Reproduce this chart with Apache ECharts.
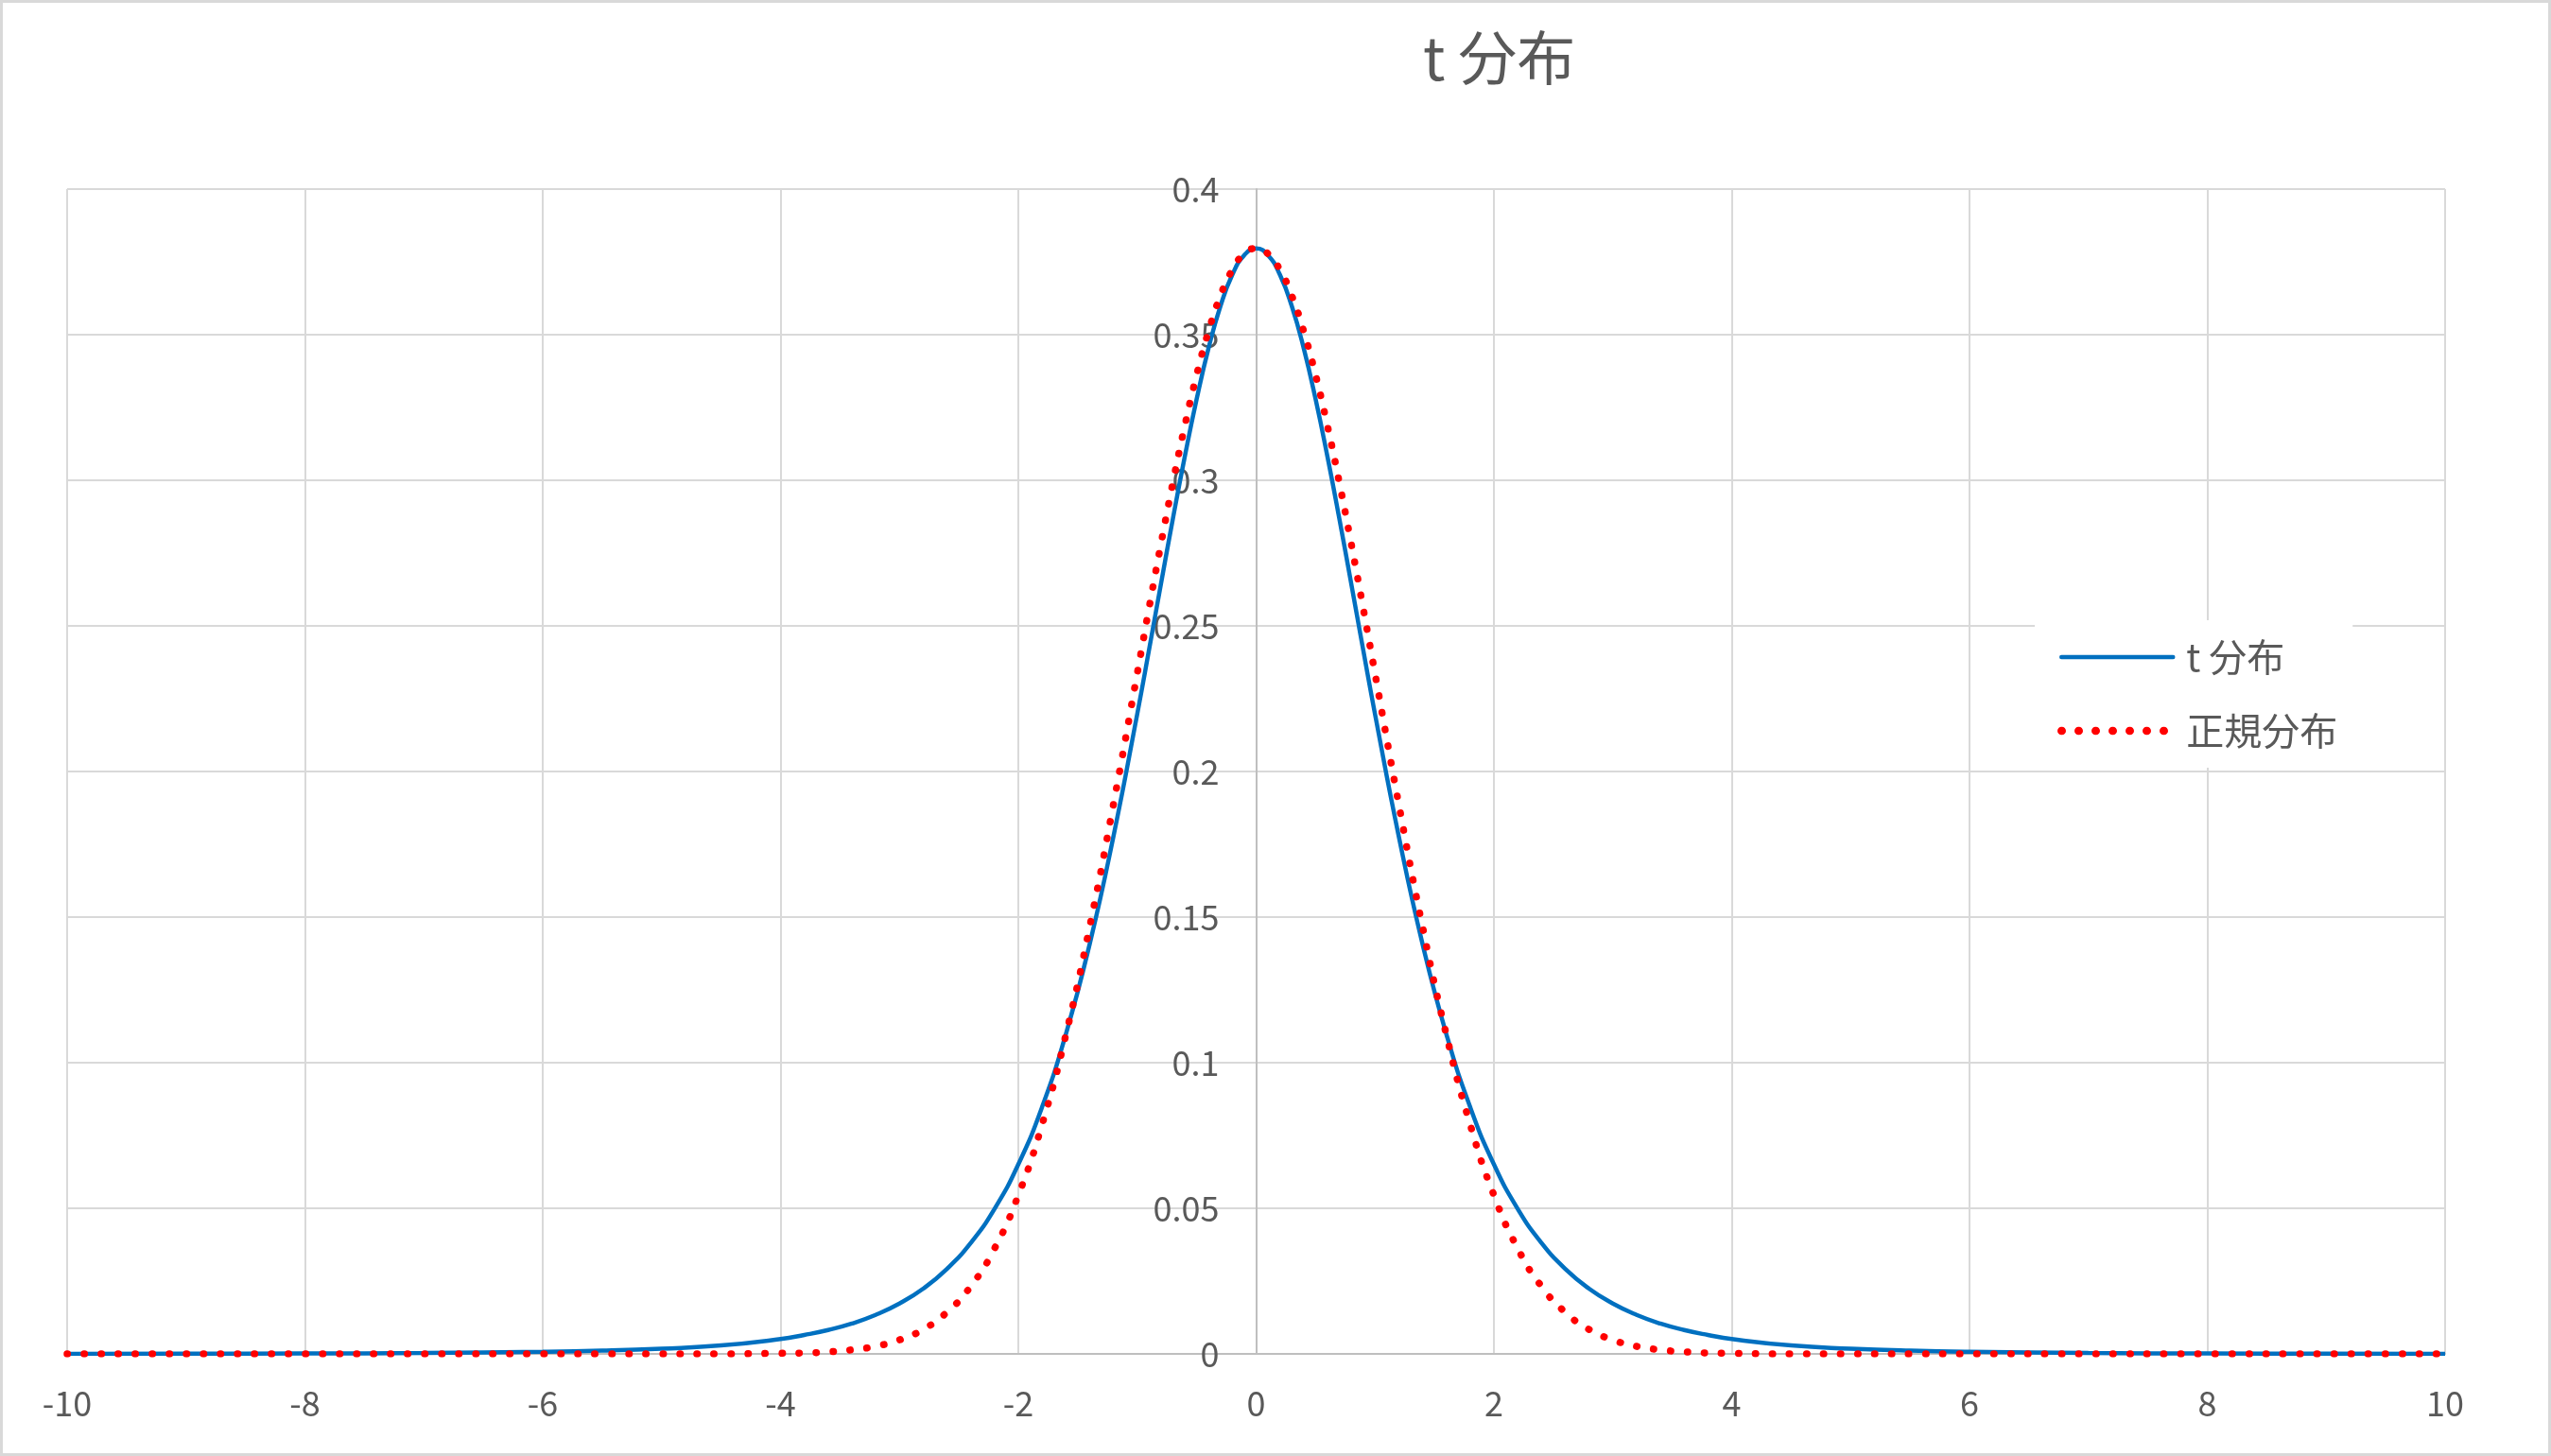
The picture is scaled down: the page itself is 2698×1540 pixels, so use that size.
<!DOCTYPE html>
<html>
<head>
<meta charset="utf-8">
<script src="https://cdn.jsdelivr.net/npm/echarts@6/dist/echarts.min.js"></script>
<style>
  html, body { margin: 0; padding: 0; background: #fff; }
  #wrap { position: relative; width: 2698px; height: 1540px; }
  #c { position: absolute; left: 0; top: 0; width: 2698px; height: 1540px; }
  #frame { position: absolute; left: 0; top: 0; width: 2698px; height: 1540px; box-sizing: border-box; border: 3px solid #d9d9d9; pointer-events: none; }
</style>
</head>
<body>
<div id="wrap"><div id="c"></div><div id="frame"></div></div>
<script>
// ---- data ----
const chartTitle = 't 分布';
const seriesNames = ['t 分布', '正規分布'];

const xValues = [
  -10, -9, -8, -7, -6, -5.5, -5, -4.5,
  -4, -3.8, -3.6, -3.4, -3.2, -3, -2.8, -2.6, -2.4, -2.2, -2, -1.8, -1.6, -1.4, -1.2,
  -1, -0.9, -0.8, -0.7, -0.6, -0.5, -0.4, -0.3, -0.2, -0.1,
  0,
  0.1, 0.2, 0.3, 0.4, 0.5, 0.6, 0.7, 0.8, 0.9, 1,
  1.2, 1.4, 1.6, 1.8, 2, 2.2, 2.4, 2.6, 2.8, 3, 3.2, 3.4, 3.6, 3.8, 4,
  4.5, 5, 5.5, 6, 7, 8, 9, 10
];

const tValues = [
  0.00004, 0.00007, 0.00014, 0.0003, 0.0007, 0.0011, 0.0018, 0.0029,
  0.0051, 0.0065, 0.0082, 0.0104, 0.0134, 0.0173, 0.0224, 0.0292, 0.0381, 0.0498, 0.0651, 0.0848, 0.1098, 0.1407, 0.1777,
  0.2197, 0.2419, 0.2645, 0.2868, 0.3081, 0.3279, 0.3454, 0.3598, 0.3706, 0.3773,
  0.3796,
  0.3773, 0.3706, 0.3598, 0.3454, 0.3279, 0.3081, 0.2868, 0.2645, 0.2419, 0.2197,
  0.1777, 0.1407, 0.1098, 0.0848, 0.0651, 0.0498, 0.0381, 0.0292, 0.0224, 0.0173, 0.0134, 0.0104, 0.0082, 0.0065, 0.0051,
  0.0029, 0.0018, 0.0011, 0.0007, 0.0003, 0.00014, 0.00007, 0.00004
];

const normalValues = [
  0, 0, 0, 0, 0, 0, 0, 0,
  0.0002, 0.0003, 0.0007, 0.0014, 0.0026, 0.0048, 0.0084, 0.0143, 0.0232, 0.0362, 0.0545, 0.0788, 0.1096, 0.1466, 0.1887,
  0.2336, 0.2562, 0.2782, 0.2992, 0.3187, 0.3362, 0.3512, 0.3634, 0.3723, 0.3778,
  0.3796,
  0.3778, 0.3723, 0.3634, 0.3512, 0.3362, 0.3187, 0.2992, 0.2782, 0.2562, 0.2336,
  0.1887, 0.1466, 0.1096, 0.0788, 0.0545, 0.0362, 0.0232, 0.0143, 0.0084, 0.0048, 0.0026, 0.0014, 0.0007, 0.0003, 0.0002,
  0, 0, 0, 0, 0, 0, 0, 0
];

// axis settings
const xMin = -10, xMax = 10, xStep = 2;
const yMin = 0, yMax = 0.4, yStep = 0.05;

// ---- chart ----
const F = '"Noto Sans CJK JP", "Noto Sans", sans-serif';
const textColor = '#595959';
const gridColor = '#d9d9d9';
const axisColor = '#bfbfbf';
const blue = '#0070c0';
const red = '#ff0000';

const W = 2698, H = 1540;
const gridL = 71, gridR = 112, gridT = 200, gridB = 108;
// y axis sits where x = 0
const yAxisOffset = -(W - gridL - gridR) * (0 - xMin) / (xMax - xMin);

const tData = xValues.map((x, i) => [x, tValues[i]]);
const nData = xValues.map((x, i) => [x, normalValues[i]]);

const chart = echarts.init(document.getElementById('c'), null, { renderer: 'canvas', width: W, height: H });
chart.setOption({
  animation: false,
  backgroundColor: '#ffffff',
  title: {
    text: chartTitle,
    left: 1500,
    top: 25,
    textStyle: { fontFamily: F, fontSize: 62, fontWeight: 'normal', color: textColor }
  },
  legend: {
    orient: 'vertical',
    left: 2152,
    top: 656,
    padding: [19, 16, 19, 24],
    itemGap: 38,
    itemWidth: 118,
    itemHeight: 20,
    backgroundColor: '#ffffff',
    itemStyle: { opacity: 0, color: 'transparent', borderWidth: 0 },
    textStyle: { fontFamily: F, fontSize: 40, color: textColor, lineHeight: 40, padding: [0, 0, 0, 9] },
    data: [
      { name: seriesNames[0], itemStyle: { opacity: 0 }, lineStyle: { color: blue, width: 4.5, type: 'solid', cap: 'round' } },
      { name: seriesNames[1], itemStyle: { opacity: 0 }, lineStyle: { color: red, width: 8.5, type: [0.5, 17.5], cap: 'round' } }
    ]
  },
  grid: { left: gridL, right: gridR, top: gridT, bottom: gridB, containLabel: false, outerBoundsMode: 'none' },
  xAxis: {
    type: 'value',
    min: xMin, max: xMax, interval: xStep,
    axisLine: { show: true, onZero: false, lineStyle: { color: axisColor, width: 2 } },
    axisTick: { show: false },
    axisLabel: { margin: 34, fontFamily: F, fontSize: 36, color: textColor },
    splitLine: { show: true, lineStyle: { color: gridColor, width: 2 } }
  },
  yAxis: {
    type: 'value',
    position: 'left',
    offset: yAxisOffset,
    min: yMin, max: yMax, interval: yStep,
    axisLine: { show: true, onZero: false, lineStyle: { color: axisColor, width: 2 } },
    axisTick: { show: false },
    axisLabel: { margin: 39, fontFamily: F, fontSize: 36, color: textColor },
    splitLine: { show: true, lineStyle: { color: gridColor, width: 2 } }
  },
  series: [
    {
      name: seriesNames[0],
      type: 'line',
      data: tData,
      symbol: 'none',
      showSymbol: false,
      smooth: true,
      lineStyle: { color: blue, width: 4.5 },
      itemStyle: { color: blue },
      z: 2
    },
    {
      name: seriesNames[1],
      type: 'line',
      data: nData,
      symbol: 'none',
      showSymbol: false,
      smooth: true,
      lineStyle: { color: red, width: 7.5, type: [0.5, 17.5], cap: 'round' },
      itemStyle: { color: red },
      z: 3
    }
  ]
});
</script>
</body>
</html>
